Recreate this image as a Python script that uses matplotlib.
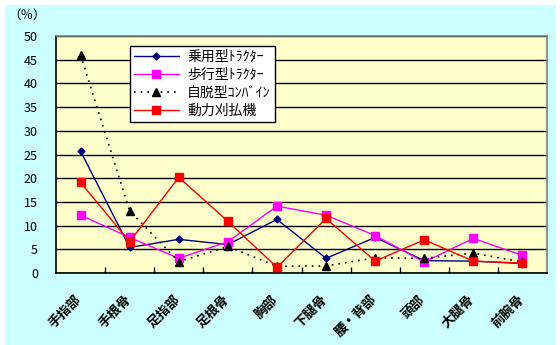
import matplotlib
matplotlib.use("Agg")
import matplotlib.pyplot as plt
from matplotlib.patches import Rectangle
from matplotlib.transforms import ScaledTranslation
import numpy as np

plt.rcParams['font.family'] = ['Noto Sans CJK JP', 'DejaVu Sans']

categories = ["手指部", "手根骨", "足指部", "足根骨", "胸部", "下腿骨", "腰・背部", "頭部", "大腿骨", "前腕骨"]
series_names = ["乗用型ﾄﾗｸﾀｰ", "歩行型ﾄﾗｸﾀｰ", "自脱型ｺﾝﾊﾞｲﾝ", "動力刈払機"]
joyo = [25.7, 5.4, 7.1, 6.0, 11.3, 3.1, 7.5, 2.6, 2.5, 2.0]
hoko = [12.2, 7.5, 3.1, 6.6, 14.1, 12.2, 7.9, 2.3, 7.3, 3.7]
combine = [46.0, 13.1, 2.4, 5.6, 1.4, 1.5, 3.2, 3.1, 4.2, 2.3]
karibarai = [19.1, 6.6, 20.2, 10.9, 1.2, 11.5, 2.5, 7.0, 2.5, 2.1]
yticks = [0, 5, 10, 15, 20, 25, 30, 35, 40, 45, 50]

W, H = 560, 345
fig = plt.figure(figsize=(W / 100, H / 100), dpi=100, facecolor='white')
fig.patches.append(Rectangle((5 / W, 0), (W - 9) / W, (H - 5) / H, transform=fig.transFigure,
                             facecolor='#CCFFFF', edgecolor='none', zorder=-10))

ax = fig.add_axes([56 / W, 1 - 273 / H, (547 - 56) / W, (273 - 36) / H])
ax.set_facecolor('#FFFFCC')
x = np.arange(len(categories))

ax.plot(x, joyo, color='#000080', lw=1.0, marker='D', ms=3.5, mfc='#000080', mec='#000080', label=series_names[0], zorder=3)
ax.plot(x, hoko, color='#FF00FF', lw=1.0, marker='s', ms=5.5, mfc='#FF00FF', mec='#FF00FF', label=series_names[1], zorder=3)
ax.plot(x, combine, color='black', lw=1.2, ls=(0, (1, 3)), marker='^', ms=5.5, mfc='black', mec='black', label=series_names[2], zorder=3)
ax.plot(x, karibarai, color='#FF0000', lw=1.0, marker='s', ms=5.5, mfc='#FF0000', mec='#FF0000', label=series_names[3], zorder=3)

ax.set_xlim(-0.5, len(categories) - 0.5)
ax.set_ylim(0, 50)
ax.set_yticks(yticks)
ax.set_yticklabels([str(v) for v in yticks], fontsize=9)
ax.tick_params(axis='y', length=0, pad=13)
ax.yaxis.grid(True, color='black', lw=1.0)
ax.set_axisbelow(True)

ax.set_xticks(x)
ax.set_xticklabels(categories, rotation=45, ha='right', va='top', rotation_mode='anchor',
                   fontsize=9.5, fontweight='bold')
ax.tick_params(axis='x', length=0, pad=14)
shift = ScaledTranslation(-6 / 100, 0, fig.dpi_scale_trans)
for lbl in ax.get_xticklabels():
    lbl.set_transform(lbl.get_transform() + shift)
ax.set_xticks(np.arange(0.5, len(categories) - 0.5, 1), minor=True)
ax.tick_params(axis='x', which='minor', length=4, direction='in', width=1)

for s in ['left', 'bottom']:
    ax.spines[s].set_color('black')
    ax.spines[s].set_linewidth(1.2)
for s in ['top', 'right']:
    ax.spines[s].set_color('#808080')
    ax.spines[s].set_linewidth(1.2)
    ax.spines[s].set_linestyle((0, (2, 1)))

fig.text(8 / W, 1 - 15 / H, "（％）", fontsize=9, ha='left', va='center')

leg = ax.legend(loc='upper left', bbox_to_anchor=(130 / W, 1 - 46 / H), bbox_transform=fig.transFigure,
                fontsize=10, frameon=True, fancybox=False, edgecolor='black', framealpha=1,
                facecolor='white', handlelength=3.2, handletextpad=0.6, borderpad=0.3,
                labelspacing=0.28, borderaxespad=0)
leg.get_frame().set_linewidth(1.0)

fig.savefig('out.png', dpi=100, facecolor=fig.get_facecolor())
